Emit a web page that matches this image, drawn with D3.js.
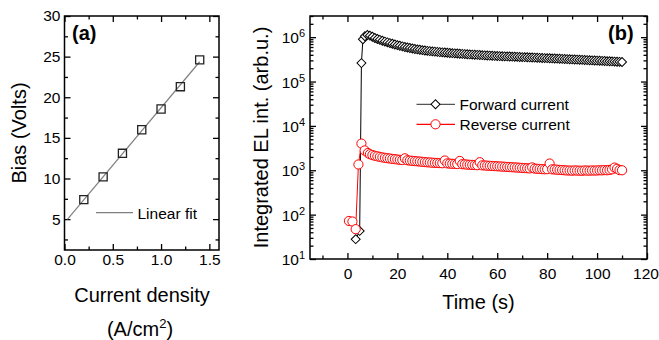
<!DOCTYPE html>
<html lang="en">
<head>
<meta charset="utf-8">
<title>bias and EL intensity</title>
<script src="https://cdn.jsdelivr.net/npm/d3@7"></script>
<style>
  body { margin: 0; background: white; }
  svg { display: block; font-family: Arial, "Liberation Sans", sans-serif; }
</style>
</head>
<body>
<script>
// ---- Data, panel (a): bias vs current density
var densities = [0.2, 0.4, 0.6, 0.8, 1.0, 1.2, 1.4];
var biases = [7.4, 10.2, 13.1, 16.0, 18.55, 21.3, 24.6];
var aXTicks = [0, 0.5, 1.0, 1.5];
var aYTicks = [5, 10, 15, 20, 25, 30];

// ---- Data, panel (b): integrated EL intensity vs time
var fwdTime = [3.3, 4.9, 5.6, 6.2,
  7, 8, 9, 10, 11, 12, 13, 14, 15, 16, 17, 18, 19, 20, 21, 22, 23, 24, 25, 26,
  27, 28, 29, 30, 31, 32, 33, 34, 35, 36, 37, 38, 39, 40, 41, 42, 43, 44, 45, 46,
  47, 48, 49, 50, 51, 52, 53, 54, 55, 56, 57, 58, 59, 60, 61, 62, 63, 64, 65, 66,
  67, 68, 69, 70, 71, 72, 73, 74, 75, 76, 77, 78, 79, 80, 81, 82, 83, 84, 85, 86,
  87, 88, 89, 90, 91, 92, 93, 94, 95, 96, 97, 98, 99, 100, 101, 102, 103, 104, 105, 106,
  107, 108, 109, 110];
var fwdEL = [28, 43, 2.6e5, 9.0e5,
  1.05e6, 1.12e6, 1.08e6, 1.02e6, 9.6e5, 9.1e5, 8.7e5, 8.3e5, 7.95e5, 7.65e5, 7.35e5, 7.1e5, 6.85e5, 6.6e5, 6.4e5, 6.2e5, 6.0e5, 5.85e5, 5.7e5, 5.55e5,
  5.42e5, 5.3e5, 5.2e5, 5.1e5, 5.0e5, 4.92e5, 4.85e5, 4.78e5, 4.72e5, 4.66e5, 4.6e5, 4.55e5, 4.5e5, 4.45e5, 4.4e5, 4.36e5, 4.32e5, 4.28e5, 4.24e5, 4.2e5,
  4.16e5, 4.12e5, 4.08e5, 4.05e5, 4.02e5, 3.99e5, 3.96e5, 3.93e5, 3.9e5, 3.87e5, 3.84e5, 3.81e5, 3.78e5, 3.76e5, 3.74e5, 3.72e5, 3.7e5, 3.68e5, 3.66e5, 3.64e5,
  3.62e5, 3.6e5, 3.58e5, 3.56e5, 3.54e5, 3.52e5, 3.5e5, 3.48e5, 3.46e5, 3.44e5, 3.42e5, 3.4e5, 3.38e5, 3.36e5, 3.34e5, 3.32e5, 3.3e5, 3.28e5, 3.26e5, 3.24e5,
  3.22e5, 3.2e5, 3.18e5, 3.16e5, 3.14e5, 3.12e5, 3.1e5, 3.08e5, 3.06e5, 3.04e5, 3.02e5, 3.0e5, 2.98e5, 2.96e5, 2.94e5, 2.92e5, 2.9e5, 2.88e5, 2.86e5, 2.84e5,
  2.82e5, 2.8e5, 2.78e5, 2.76e5];
var revTime = [0.6, 2.0, 3.3, 4.4, 5.6, 6.9, 8.2,
  9, 10, 11, 12, 13, 14, 15, 16, 17, 18, 19, 20, 21, 22, 23, 24, 25, 26, 27, 28,
  29, 30, 31, 32, 33, 34, 35, 36, 37, 38, 39, 40, 41, 42, 43, 44, 45, 46, 47, 48,
  49, 50, 51, 52, 53, 54, 55, 56, 57, 58, 59, 60, 61, 62, 63, 64, 65, 66, 67, 68,
  69, 70, 71, 72, 73, 74, 75, 76, 77, 78, 79, 80, 81, 82, 83, 84, 85, 86, 87, 88,
  89, 90, 91, 92, 93, 94, 95, 96, 97, 98, 99, 100, 101, 102, 103, 104, 105, 106, 107, 108,
  109, 110];
var revEL = [72, 70, 47, 1350, 4000, 2800, 2450,
  2300, 2200, 2120, 2060, 2000, 1950, 1910, 1870, 1840, 1800, 1780, 1750, 1720, 1700, 1860, 1680, 1650, 1630, 1610, 1590,
  1570, 1550, 1530, 1510, 1500, 1480, 1470, 1460, 1450, 1440, 1660, 1430, 1410, 1400, 1390, 1380, 1620, 1370, 1360, 1340,
  1330, 1320, 1310, 1300, 1520, 1290, 1280, 1270, 1260, 1250, 1240, 1230, 1220, 1210, 1200, 1190, 1180, 1170, 1160, 1150,
  1140, 1130, 1120, 1110, 1100, 1160, 1090, 1080, 1070, 1060, 1050, 1060, 1420, 1050, 1040, 1030, 1020, 1010, 1000, 990,
  985, 980, 990, 985, 980, 975, 990, 985, 980, 990, 985, 990, 1000, 995, 1010, 1000, 1020, 1050, 1150, 1080,
  1010, 1000];
var bXTicks = [0, 20, 40, 60, 80, 100, 120];
var bXMinor = [-10, 10, 30, 50, 70, 90, 110];
var bYTicks = [1e1, 1e2, 1e3, 1e4, 1e5, 1e6];

var width = 659, height = 340;
var fontSize = 15.5;

var svg = d3.select("body").append("svg")
  .attr("width", width)
  .attr("height", height);

svg.append("rect")
  .attr("width", width)
  .attr("height", height)
  .attr("fill", "white");

// Scales
var xA = d3.scaleLinear().domain([0, 1.6]).range([64.5, 219]);
var yA = d3.scaleLinear().domain([1.2, 30]).range([250, 16]);
var xB = d3.scaleLinear().domain([-15, 120]).range([310, 647]);
var yB = d3.scaleLog().domain([10, 3e6]).range([259, 16]);

// Ticks point inward on all four sides
function styleAxis(g) {
  g.select(".domain").remove();
  g.selectAll(".tick line").attr("stroke", "#000").attr("stroke-width", 1.3);
  g.selectAll(".tick text").attr("font-size", fontSize).attr("fill", "#000")
    .attr("font-family", "Arial, 'Liberation Sans', sans-serif");
}

function frame(x, y) {
  var x0 = x.range()[0], x1 = x.range()[1];
  var y0 = y.range()[1], y1 = y.range()[0];
  svg.append("rect")
    .attr("x", x0).attr("y", y0)
    .attr("width", x1 - x0).attr("height", y1 - y0)
    .attr("fill", "none")
    .attr("stroke", "#000")
    .attr("stroke-width", 1.5);
}

function linearAxes(x, y, xTicks, yTicks, xMinor, yMinor, xFmt, xPad) {
  var x0 = x.range()[0], x1 = x.range()[1];
  var y0 = y.range()[1], y1 = y.range()[0];
  var bottom = svg.append("g").attr("transform", "translate(0," + y1 + ")")
    .call(d3.axisBottom(x).tickValues(xTicks).tickSize(-6).tickPadding(xPad).tickFormat(xFmt))
    .call(styleAxis);
  svg.append("g").attr("transform", "translate(0," + y1 + ")")
    .call(d3.axisBottom(x).tickValues(xMinor).tickSize(-3.5).tickFormat(""))
    .call(styleAxis);
  svg.append("g").attr("transform", "translate(0," + y0 + ")")
    .call(d3.axisTop(x).tickValues(xTicks).tickSize(-6).tickFormat(""))
    .call(styleAxis);
  svg.append("g").attr("transform", "translate(0," + y0 + ")")
    .call(d3.axisTop(x).tickValues(xMinor).tickSize(-3.5).tickFormat(""))
    .call(styleAxis);

  if (yTicks) {
    svg.append("g").attr("transform", "translate(" + x0 + ",0)")
      .call(d3.axisLeft(y).tickValues(yTicks).tickSize(-6).tickPadding(4))
      .call(styleAxis);
    svg.append("g").attr("transform", "translate(" + x0 + ",0)")
      .call(d3.axisLeft(y).tickValues(yMinor).tickSize(-3.5).tickFormat(""))
      .call(styleAxis);
    svg.append("g").attr("transform", "translate(" + x1 + ",0)")
      .call(d3.axisRight(y).tickValues(yTicks).tickSize(-6).tickFormat(""))
      .call(styleAxis);
    svg.append("g").attr("transform", "translate(" + x1 + ",0)")
      .call(d3.axisRight(y).tickValues(yMinor).tickSize(-3.5).tickFormat(""))
      .call(styleAxis);
  }
  return bottom;
}

// ================= Panel (a) =================
var aXMinor = [0.25, 0.75, 1.25];
var aYMinor = [2.5, 7.5, 12.5, 17.5, 22.5, 27.5];
linearAxes(xA, yA, aXTicks, aYTicks, aXMinor, aYMinor, d3.format(".1f"), 4);

// least squares fit through the squares
var mx = d3.mean(densities), my = d3.mean(biases);
var slope = d3.sum(densities, function(d, i) { return (d - mx) * (biases[i] - my); }) /
            d3.sum(densities, function(d) { return (d - mx) * (d - mx); });
var intercept = my - slope * mx;
var fitRange = [0.03, 1.4];

svg.append("path")
  .datum(fitRange)
  .attr("fill", "none")
  .attr("stroke", "#808080")
  .attr("stroke-width", 1.2)
  .attr("d", d3.line()
    .x(function(d) { return xA(d); })
    .y(function(d) { return yA(intercept + slope * d); }));

svg.selectAll(".sq")
  .data(densities)
  .enter().append("path")
  .attr("class", "sq")
  .attr("transform", function(d, i) { return "translate(" + xA(d) + "," + yA(biases[i]) + ")"; })
  .attr("d", d3.symbol(d3.symbolSquare, 66))
  .attr("fill", "none")
  .attr("stroke", "#222")
  .attr("stroke-width", 1.3);

frame(xA, yA);

// legend (a)
svg.append("line")
  .attr("x1", 96).attr("x2", 133).attr("y1", 212.7).attr("y2", 212.7)
  .attr("stroke", "#808080").attr("stroke-width", 1.2);
svg.append("text").attr("x", 137.5).attr("y", 218.5)
  .attr("font-size", fontSize).text("Linear fit");

svg.append("text").attr("x", 72).attr("y", 39.5)
  .attr("font-size", 20).attr("font-weight", "bold").text("(a)");

// axis titles (a)
svg.append("text")
  .attr("transform", "translate(26," + ((yA.range()[0] + yA.range()[1]) / 2) + ") rotate(-90)")
  .attr("text-anchor", "middle")
  .attr("font-size", 20)
  .text("Bias (Volts)");
svg.append("text")
  .attr("x", 142).attr("y", 302)
  .attr("text-anchor", "middle")
  .attr("font-size", 20)
  .text("Current density");
var unitA = svg.append("text")
  .attr("x", 140).attr("y", 336)
  .attr("text-anchor", "middle")
  .attr("font-size", 20);
unitA.append("tspan").text("(A/cm");
unitA.append("tspan").attr("font-size", 13).attr("dy", -8).text("2");
unitA.append("tspan").attr("dy", 8).text(")");

// ================= Panel (b) =================
var bottomB = linearAxes(xB, yB, bXTicks, null, bXMinor, null, d3.format("d"), 9);
// keep the last label inside the picture
bottomB.selectAll(".tick text").filter(function(d) { return d === 120; }).attr("dx", -1.5);

var bMinor = yB.ticks().filter(function(d) {
  var l = Math.log10(d);
  return Math.abs(l - Math.round(l)) > 1e-6;
});

var bx0 = xB.range()[0], bx1 = xB.range()[1];
var leftB = svg.append("g").attr("transform", "translate(" + bx0 + ",0)")
  .call(d3.axisLeft(yB).tickValues(bYTicks).tickSize(-6).tickFormat(""))
  .call(styleAxis);
svg.append("g").attr("transform", "translate(" + bx0 + ",0)")
  .call(d3.axisLeft(yB).tickValues(bMinor).tickSize(-3.5).tickFormat(""))
  .call(styleAxis);
svg.append("g").attr("transform", "translate(" + bx1 + ",0)")
  .call(d3.axisRight(yB).tickValues(bYTicks).tickSize(-6).tickFormat(""))
  .call(styleAxis);
svg.append("g").attr("transform", "translate(" + bx1 + ",0)")
  .call(d3.axisRight(yB).tickValues(bMinor).tickSize(-3.5).tickFormat(""))
  .call(styleAxis);

// power-of-ten labels
leftB.selectAll(".tick").each(function(d) {
  var t = d3.select(this).append("text")
    .attr("x", -5).attr("y", 5.5)
    .attr("text-anchor", "end")
    .attr("fill", "#000")
    .attr("font-size", fontSize);
  t.append("tspan").text("10");
  t.append("tspan").attr("font-size", 11).attr("dy", -6).text(Math.round(Math.log10(d)));
});

var line = d3.line()
  .x(function(d) { return xB(d[0]); })
  .y(function(d) { return yB(d[1]); });

var fwd = fwdTime.map(function(t, i) { return [t, fwdEL[i]]; });
var rev = revTime.map(function(t, i) { return [t, revEL[i]]; });

svg.append("path").datum(fwd)
  .attr("fill", "none").attr("stroke", "#000").attr("stroke-width", 1)
  .attr("d", line);
svg.selectAll(".dia")
  .data(fwd)
  .enter().append("path")
  .attr("class", "dia")
  .attr("transform", function(d) { return "translate(" + xB(d[0]) + "," + yB(d[1]) + ") rotate(45)"; })
  .attr("d", d3.symbol(d3.symbolSquare, 40))
  .attr("fill", "white")
  .attr("stroke", "#000")
  .attr("stroke-width", 1);

svg.append("path").datum(rev)
  .attr("fill", "none").attr("stroke", "#ff0000").attr("stroke-width", 1)
  .attr("d", line);
svg.selectAll(".circ")
  .data(rev)
  .enter().append("circle")
  .attr("class", "circ")
  .attr("cx", function(d) { return xB(d[0]); })
  .attr("cy", function(d) { return yB(d[1]); })
  .attr("r", 4.6)
  .attr("fill", "white")
  .attr("stroke", "#ff0000")
  .attr("stroke-width", 1);

frame(xB, yB);

// legend (b)
svg.append("line").attr("x1", 416.5).attr("x2", 455).attr("y1", 104.3).attr("y2", 104.3)
  .attr("stroke", "#555").attr("stroke-width", 1.2);
svg.append("path")
  .attr("transform", "translate(435.5,104.3) rotate(45)")
  .attr("d", d3.symbol(d3.symbolSquare, 40))
  .attr("fill", "white").attr("stroke", "#000");
svg.append("text").attr("x", 459.5).attr("y", 110).attr("font-size", fontSize).text("Forward current");

svg.append("line").attr("x1", 416.5).attr("x2", 455).attr("y1", 124.3).attr("y2", 124.3)
  .attr("stroke", "#ff0000").attr("stroke-width", 1.2);
svg.append("circle").attr("cx", 435.5).attr("cy", 124.3).attr("r", 4.6)
  .attr("fill", "white").attr("stroke", "#ff0000");
svg.append("text").attr("x", 459.5).attr("y", 130).attr("font-size", fontSize).text("Reverse current");

svg.append("text").attr("x", 608).attr("y", 39.5)
  .attr("font-size", 20).attr("font-weight", "bold").text("(b)");

// axis titles (b)
svg.append("text")
  .attr("transform", "translate(268," + ((yB.range()[0] + yB.range()[1]) / 2) + ") rotate(-90)")
  .attr("text-anchor", "middle")
  .attr("font-size", 20)
  .text("Integrated EL int. (arb.u.)");
svg.append("text")
  .attr("x", (bx0 + bx1) / 2).attr("y", 309)
  .attr("text-anchor", "middle")
  .attr("font-size", 20)
  .text("Time (s)");
</script>
</body>
</html>
